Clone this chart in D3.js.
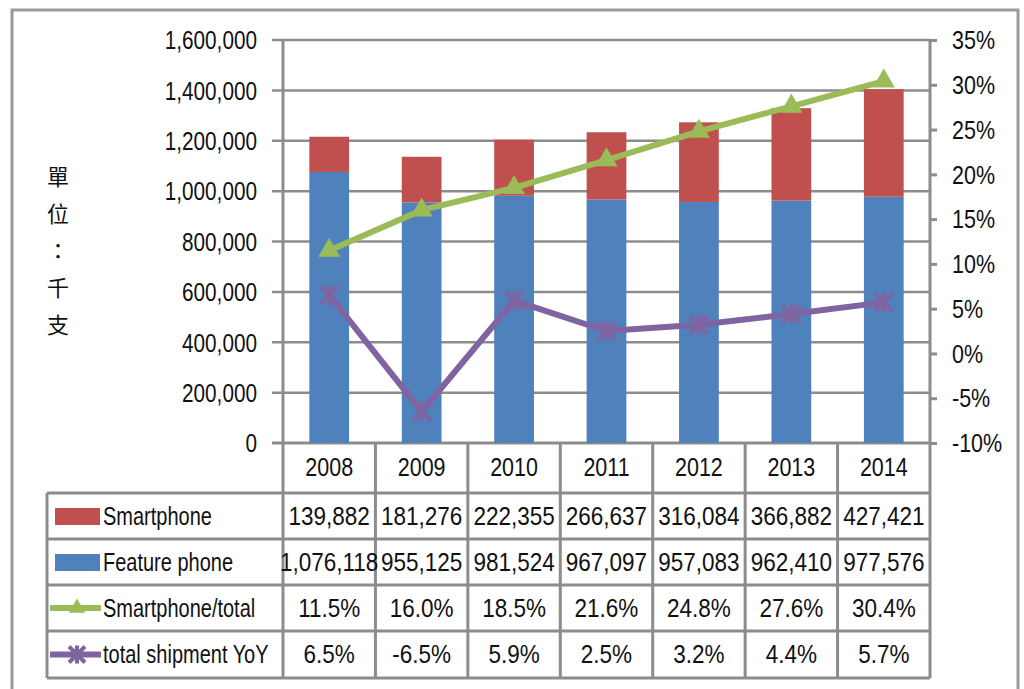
<!DOCTYPE html>
<html>
<head>
<meta charset="utf-8">
<script src="https://cdn.jsdelivr.net/npm/d3@7"></script>
<style>
  body { margin: 0; background: #fff; }
  svg text { font-family: "Liberation Sans Narrow", "Arial Narrow", "Liberation Sans", sans-serif; fill: #111; }
</style>
</head>
<body>
<svg width="1024" height="689"></svg>
<script>
const years = ["2008", "2009", "2010", "2011", "2012", "2013", "2014"];
const smartphone = [139882, 181276, 222355, 266637, 316084, 366882, 427421];
const featurePhone = [1076118, 955125, 981524, 967097, 957083, 962410, 977576];
const smartShare = [11.5, 16.0, 18.5, 21.6, 24.8, 27.6, 30.4];
const totalYoY = [6.5, -6.5, 5.9, 2.5, 3.2, 4.4, 5.7];
const leftTicks = [0, 200000, 400000, 600000, 800000, 1000000, 1200000, 1400000, 1600000];
const rightTicks = [-10, -5, 0, 5, 10, 15, 20, 25, 30, 35];
const seriesNames = ["Smartphone", "Feature phone", "Smartphone/total", "total shipment YoY"];
const tableLabels = [
    smartphone.map(d3.format(",")),
    featurePhone.map(d3.format(",")),
    smartShare.map(d => d.toFixed(1) + "%"),
    totalYoY.map(d => d.toFixed(1) + "%")
];

const colors = { red: "#c0504d", blue: "#4f81bd", green: "#9bbb59", purple: "#8064a2", grid: "#8c8c8c" };

const svg = d3.select("svg");
const plot = { left: 283, right: 930, top: 40, bottom: 443 };

const x = d3.scaleBand().domain(years).range([plot.left, plot.right]).paddingInner(0.57).paddingOuter(0.285);
const xCell = d3.scaleBand().domain(years).range([plot.left, plot.right]);
const yLeft = d3.scaleLinear().domain([0, 1600000]).range([plot.bottom, plot.top]);
const yRight = d3.scaleLinear().domain([-10, 35]).range([plot.bottom, plot.top]);

// squeeze text horizontally around its anchor (narrow font look)
function squeeze(sel, s) {
    sel.each(function () {
        const t = d3.select(this);
        const ax = +t.attr("x") || 0;
        t.attr("transform", `translate(${ax * (1 - s)},0) scale(${s},1)`);
    });
}

// outer frame
svg.append("rect")
    .attr("x", 12).attr("y", 10).attr("width", 1006).attr("height", 700)
    .attr("fill", "none").attr("stroke", "#9a9a9a").attr("stroke-width", 3);

// gridlines + left axis
const leftAxis = svg.append("g")
    .attr("transform", `translate(${plot.left},0)`)
    .call(d3.axisLeft(yLeft).tickValues(leftTicks).tickFormat(d3.format(",")).tickSize(0).tickPadding(26));
leftAxis.select(".domain").remove();
leftAxis.selectAll("text").style("font-size", "25px").attr("dy", "0.35em").call(squeeze, 0.83);

svg.append("g").selectAll("line")
    .data(leftTicks)
    .enter()
    .append("line")
    .attr("x1", plot.left - 11)
    .attr("x2", plot.right)
    .attr("y1", d => yLeft(d))
    .attr("y2", d => yLeft(d))
    .attr("stroke", colors.grid)
    .attr("stroke-width", d => d === 0 ? 3 : 2.5);

// bars
const bars = svg.append("g");
bars.selectAll(".feature")
    .data(years)
    .enter()
    .append("rect")
    .attr("x", d => x(d))
    .attr("width", x.bandwidth())
    .attr("y", (d, i) => yLeft(featurePhone[i]))
    .attr("height", (d, i) => yLeft(0) - yLeft(featurePhone[i]))
    .attr("fill", colors.blue);
bars.selectAll(".smart")
    .data(years)
    .enter()
    .append("rect")
    .attr("x", d => x(d))
    .attr("width", x.bandwidth())
    .attr("y", (d, i) => yLeft(featurePhone[i] + smartphone[i]))
    .attr("height", (d, i) => yLeft(featurePhone[i]) - yLeft(featurePhone[i] + smartphone[i]))
    .attr("fill", colors.red);

// left axis line
svg.append("line")
    .attr("x1", plot.left).attr("x2", plot.left)
    .attr("y1", plot.top).attr("y2", plot.bottom)
    .attr("stroke", colors.grid).attr("stroke-width", 3);

// right axis
const rightAxis = svg.append("g")
    .attr("transform", `translate(${plot.right},0)`)
    .call(d3.axisRight(yRight).tickValues(rightTicks).tickFormat(d => d + "%").tickSize(7).tickPadding(15));
rightAxis.select(".domain").attr("stroke", colors.grid).attr("stroke-width", 3).attr("d", `M0,${plot.top}V${plot.bottom}`);
rightAxis.selectAll(".tick line").attr("stroke", colors.grid).attr("stroke-width", 3);
rightAxis.selectAll("text").style("font-size", "25px").attr("dy", "0.35em").call(squeeze, 0.86);

// lines
const cx = d => x(d) + x.bandwidth() / 2;
const lineShare = d3.line().x(d => cx(d.year)).y(d => yRight(d.v));
const shareData = years.map((year, i) => ({ year, v: smartShare[i] }));
const yoyData = years.map((year, i) => ({ year, v: totalYoY[i] }));

svg.append("path")
    .datum(shareData)
    .attr("d", lineShare)
    .attr("fill", "none")
    .attr("stroke", colors.green)
    .attr("stroke-width", 6);
svg.append("g").selectAll("path")
    .data(shareData)
    .enter()
    .append("path")
    .attr("transform", d => `translate(${cx(d.year)},${yRight(d.v)})`)
    .attr("d", d3.symbol(d3.symbolTriangle, 210))
    .attr("fill", colors.green);

svg.append("path")
    .datum(yoyData)
    .attr("d", lineShare)
    .attr("fill", "none")
    .attr("stroke", colors.purple)
    .attr("stroke-width", 6);
svg.append("g").selectAll("path")
    .data(yoyData)
    .enter()
    .append("path")
    .attr("transform", d => `translate(${cx(d.year)},${yRight(d.v)})`)
    .attr("d", "M-9,-9L9,9M-9,9L9,-9M0,-10V10")
    .attr("stroke", colors.purple)
    .attr("stroke-width", 4);

// y title
svg.append("g").selectAll("text")
    .data(["單", "位", "：", "千", "支"])
    .enter()
    .append("text")
    .attr("x", 58)
    .attr("y", (d, i) => 175 + i * 37)
    .attr("text-anchor", "middle")
    .attr("dominant-baseline", "central")
    .style("font-family", "'Noto Sans CJK TC', sans-serif")
    .style("font-size", "22px")
    .text(d => d);

// data table
const table = svg.append("g");
const headTop = 443, headBottom = 492;
const rowTops = [493, 539, 585, 631, 678];
const legendLeft = 47;

table.selectAll(".year")
    .data(years)
    .enter()
    .append("text")
    .attr("x", d => xCell(d) + xCell.bandwidth() / 2)
    .attr("y", (headTop + headBottom) / 2)
    .attr("text-anchor", "middle")
    .attr("dy", "0.35em")
    .style("font-size", "25px")
    .text(d => d)
    .call(squeeze, 0.86);

table.selectAll(".vline-head")
    .data(years.concat(["end"]))
    .enter()
    .append("line")
    .attr("x1", (d, i) => plot.left + i * xCell.bandwidth())
    .attr("x2", (d, i) => plot.left + i * xCell.bandwidth())
    .attr("y1", headTop).attr("y2", rowTops[4])
    .attr("stroke", colors.grid).attr("stroke-width", 3);

table.selectAll(".hline")
    .data(rowTops)
    .enter()
    .append("line")
    .attr("x1", legendLeft).attr("x2", plot.right)
    .attr("y1", d => d).attr("y2", d => d)
    .attr("stroke", colors.grid).attr("stroke-width", 3);

table.append("line")
    .attr("x1", legendLeft).attr("x2", legendLeft)
    .attr("y1", rowTops[0]).attr("y2", rowTops[4])
    .attr("stroke", colors.grid).attr("stroke-width", 3);

tableLabels.forEach((row, r) => {
    const yMid = (rowTops[r] + rowTops[r + 1]) / 2;
    table.selectAll(".cell" + r)
        .data(row)
        .enter()
        .append("text")
        .attr("x", (d, i) => xCell(years[i]) + xCell.bandwidth() / 2)
        .attr("y", yMid)
        .attr("dy", "0.35em")
        .attr("text-anchor", "middle")
        .style("font-size", "25px")
        .text(d => d)
        .call(squeeze, 0.9);
});

// legend keys
const keyMid = r => (rowTops[r] + rowTops[r + 1]) / 2;
table.append("rect").attr("x", 55).attr("y", keyMid(0) - 8).attr("width", 45).attr("height", 17).attr("fill", colors.red);
table.append("rect").attr("x", 55).attr("y", keyMid(1) - 8).attr("width", 45).attr("height", 17).attr("fill", colors.blue);
table.append("line").attr("x1", 50).attr("x2", 101).attr("y1", keyMid(2)).attr("y2", keyMid(2))
    .attr("stroke", colors.green).attr("stroke-width", 6);
table.append("path").attr("transform", `translate(77,${keyMid(2)})`)
    .attr("d", d3.symbol(d3.symbolTriangle, 120)).attr("fill", colors.green);
table.append("line").attr("x1", 50).attr("x2", 101).attr("y1", keyMid(3)).attr("y2", keyMid(3))
    .attr("stroke", colors.purple).attr("stroke-width", 6);
table.append("path").attr("transform", `translate(77,${keyMid(3)})`)
    .attr("d", "M-8,-8L8,8M-8,8L8,-8M0,-9V9").attr("stroke", colors.purple).attr("stroke-width", 4);

table.selectAll(".legend-text")
    .data(seriesNames)
    .enter()
    .append("text")
    .attr("x", 103)
    .attr("y", (d, i) => keyMid(i))
    .attr("dy", "0.35em")
    .style("font-size", "25px")
    .text(d => d)
    .call(squeeze, 0.8);
</script>
</body>
</html>
